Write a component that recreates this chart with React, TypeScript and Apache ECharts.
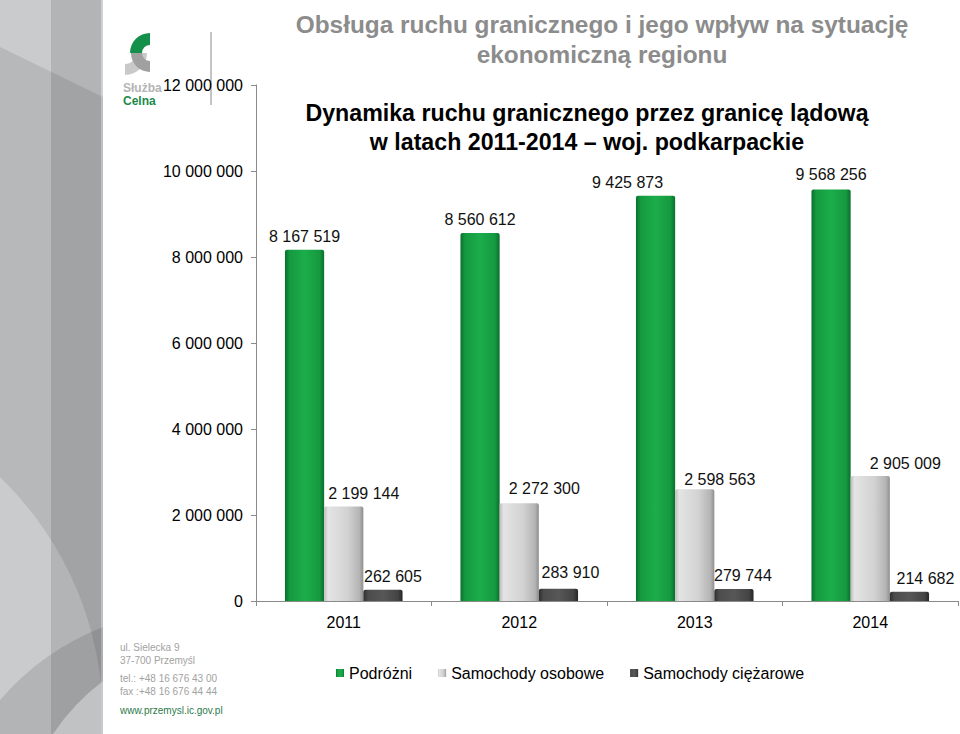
import React, { useEffect, useRef } from "react";
import * as echarts from "echarts";

const years = ["2011", "2012", "2013", "2014"];
const podrozni = [8167519, 8560612, 9425873, 9568256];
const osobowe = [2199144, 2272300, 2598563, 2905009];
const ciezarowe = [262605, 283910, 279744, 214682];
const seriesNames = ["Podróżni", "Samochody osobowe", "Samochody ciężarowe"];
const yMin = 0;
const yMax = 12000000;
const yStep = 2000000;

const title1 = "Obsługa ruchu granicznego i jego wpływ na sytuację\nekonomiczną regionu";
const title2 = "Dynamika ruchu granicznego przez granicę lądową\nw latach 2011-2014 – woj. podkarpackie";
const contact1 = "ul. Sielecka 9\n37-700 Przemyśl";
const contact2 = "tel.: +48 16 676 43 00\nfax :+48 16 676 44 44";
const website = "www.przemysl.ic.gov.pl";

// manual label nudges (as placed in the original slide)
const shiftPodrozni = [[0, 0], [0, 0], [-28, 0], [0, -2]];
const shiftOsobowe = [[20, 0], [25, -2], [25, 3], [35, 0]];
const shiftCiezarowe = [[10, 0], [12, -3], [9, 0], [16, 0]];

const FONT = '"Liberation Sans", Arial, sans-serif';
const fmt = (v: number) => String(v).replace(/\B(?=(\d{3})+(?!\d))/g, " ");

echarts.graphic.registerShape(
  "sbOuterArc",
  echarts.graphic.extendPath("M0,700 A262,262 0 0,1 103,627 L103,734 L0,734 Z", {})
);
echarts.graphic.registerShape(
  "sbInnerArc",
  echarts.graphic.extendPath("M53,734 A218,218 0 0,1 103,681 L103,734 Z", {})
);
echarts.graphic.registerShape(
  "sbBigCircle",
  echarts.graphic.extendPath("M0,477 A338,338 0 0,1 103,720 L103,734 L0,734 Z", {})
);

const hGrad = (stops: [number, string][]) =>
  new echarts.graphic.LinearGradient(0, 0, 1, 0, stops.map(([offset, color]) => ({ offset, color })));

const greenGrad = hGrad([
  [0, "#0a6f2f"],
  [0.12, "#15993f"],
  [0.5, "#1cad4b"],
  [0.88, "#15993f"],
  [1, "#0a6f2f"],
]);
const greyGrad = hGrad([
  [0, "#bdbdbd"],
  [0.1, "#e4e4e4"],
  [0.6, "#d2d2d2"],
  [0.9, "#b4b4b4"],
  [1, "#8e8e8e"],
]);
const darkGrad = hGrad([
  [0, "#2e2e2e"],
  [0.12, "#4c4c4c"],
  [0.5, "#575757"],
  [0.88, "#444444"],
  [1, "#262626"],
]);

const mkData = (vals: number[], shifts: number[][]) =>
  vals.map((v, i) => ({ value: v, label: { offset: shifts[i] } }));

export default function App() {
  const ref = useRef<HTMLDivElement>(null);
  useEffect(() => {
    if (!ref.current) return;
    const chart = echarts.init(ref.current, null, { renderer: "svg" });
    const barLabel = {
      show: true,
      position: "top" as const,
      formatter: (p: any) => fmt(p.value),
      color: "#111",
      fontSize: 16,
      fontFamily: FONT,
    };
    chart.setOption({
      animation: false,
      backgroundColor: "#ffffff",
      textStyle: { fontFamily: FONT },
      graphic: [
        // sidebar
        { type: "rect", shape: { x: 0, y: 0, width: 103, height: 734 }, style: { fill: "#b7b8ba" }, silent: true },
        { type: "polygon", shape: { points: [[0, 0], [103, 0], [103, 97], [0, 47]] }, style: { fill: "#cacbcd" }, silent: true },
        { type: "sbBigCircle", style: { fill: "#cacbcd" }, silent: true },
        { type: "rect", shape: { x: 51, y: 0, width: 50, height: 734 }, style: { fill: "rgba(0,0,0,0.11)" }, silent: true },
        { type: "sbOuterArc", style: { fill: "rgba(0,0,0,0.11)" }, silent: true },
        { type: "sbInnerArc", style: { fill: "#c1c2c4" }, silent: true },
        { type: "rect", shape: { x: 101, y: 0, width: 2, height: 734 }, style: { fill: "rgba(255,255,255,0.12)" }, silent: true },
        // logo
        {
          type: "sector",
          shape: { cx: 125, cy: 53, r0: 11, r: 22, startAngle: 0, endAngle: Math.PI / 2, clockwise: true },
          style: { fill: "#c9c9c9" },
          silent: true,
        },
        {
          type: "sector",
          shape: { cx: 150, cy: 53, r0: 8, r: 19, startAngle: Math.PI / 2, endAngle: Math.PI, clockwise: true },
          style: { fill: "#a0a0a0" },
          silent: true,
        },
        {
          type: "sector",
          shape: { cx: 150, cy: 53, r0: 8, r: 20, startAngle: Math.PI, endAngle: Math.PI * 1.5, clockwise: true },
          style: { fill: "#14904a" },
          silent: true,
        },
        {
          type: "text",
          x: 123,
          y: 88,
          style: { text: "Służba", fill: "#b4b4b4", font: `bold 12px ${FONT}`, verticalAlign: "middle", textVerticalAlign: "middle" },
          silent: true,
        },
        {
          type: "text",
          x: 123,
          y: 101,
          style: { text: "Celna", fill: "#1a8a4a", font: `bold 12px ${FONT}`, verticalAlign: "middle", textVerticalAlign: "middle" },
          silent: true,
        },
        { type: "line", shape: { x1: 211, y1: 32, x2: 211, y2: 105 }, style: { stroke: "#c4c4c4", lineWidth: 2 }, silent: true },
        // contact info
        {
          type: "text",
          x: 120,
          y: 641,
          style: { text: contact1, fill: "#a2a2a2", font: `10px ${FONT}`, lineHeight: 13 },
          silent: true,
        },
        {
          type: "text",
          x: 120,
          y: 672,
          style: { text: contact2, fill: "#a2a2a2", font: `10px ${FONT}`, lineHeight: 13 },
          silent: true,
        },
        {
          type: "text",
          x: 120,
          y: 705,
          style: { text: website, fill: "#2c7a4a", font: `10px ${FONT}` },
          silent: true,
        },
        // titles
        {
          type: "text",
          x: 602,
          y: 9,
          style: {
            text: title1,
            fill: "#8c8c8c",
            font: `bold 24.4px "Liberation Sans Narrow", ${FONT}`,
            lineHeight: 30,
            align: "center",
            textAlign: "center",
          },
          silent: true,
        },
        {
          type: "text",
          x: 587,
          y: 98,
          style: {
            text: title2,
            fill: "#000000",
            font: `bold 23.2px "Liberation Sans Narrow", ${FONT}`,
            lineHeight: 29,
            align: "center",
            textAlign: "center",
          },
          silent: true,
        },
      ],
      legend: {
        left: 331,
        top: 660,
        icon: "rect",
        itemWidth: 8,
        itemHeight: 8,
        itemGap: 26,
        textStyle: { fontSize: 16, color: "#000", fontFamily: FONT },
        data: seriesNames,
      },
      grid: { left: 256, right: 2, top: 85, bottom: 133 },
      xAxis: {
        type: "category",
        data: years,
        axisLine: { lineStyle: { color: "#8a8a8a", width: 1 } },
        axisTick: { show: true, length: 5, lineStyle: { color: "#8a8a8a" } },
        axisLabel: { color: "#000", fontSize: 16, margin: 13, fontFamily: FONT },
      },
      yAxis: {
        type: "value",
        min: yMin,
        max: yMax,
        interval: yStep,
        axisLine: { show: true, lineStyle: { color: "#8a8a8a", width: 1 } },
        axisTick: { show: true, length: 5, lineStyle: { color: "#8a8a8a" } },
        splitLine: { show: false },
        axisLabel: { color: "#000", fontSize: 16, margin: 13, fontFamily: FONT, formatter: (v: number) => fmt(v) },
      },
      series: [
        {
          name: seriesNames[0],
          type: "bar",
          data: mkData(podrozni, shiftPodrozni),
          barGap: "0%",
          barCategoryGap: "33%",
          itemStyle: { color: greenGrad, borderRadius: [2, 2, 0, 0] },
          label: barLabel,
        },
        {
          name: seriesNames[1],
          type: "bar",
          data: mkData(osobowe, shiftOsobowe),
          barGap: "0%",
          barCategoryGap: "33%",
          itemStyle: { color: greyGrad, borderRadius: [2, 2, 0, 0] },
          label: barLabel,
        },
        {
          name: seriesNames[2],
          type: "bar",
          data: mkData(ciezarowe, shiftCiezarowe),
          barGap: "0%",
          barCategoryGap: "33%",
          itemStyle: { color: darkGrad, borderRadius: [2, 2, 0, 0] },
          label: barLabel,
        },
      ],
    });
    return () => chart.dispose();
  }, []);
  return <div ref={ref} style={{ position: "fixed", left: 0, top: 0, width: 960, height: 734 }} />;
}
